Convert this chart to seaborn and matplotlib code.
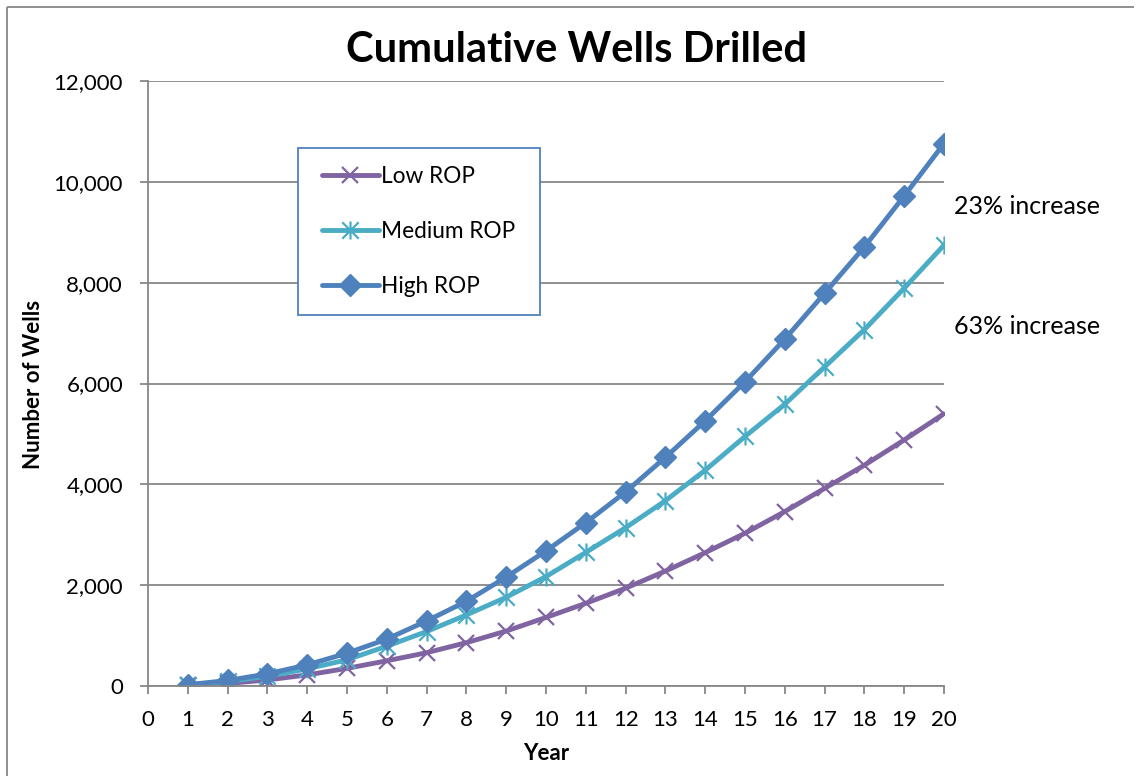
import matplotlib
matplotlib.use("Agg")
import matplotlib.pyplot as plt
import seaborn as sns
import pandas as pd
from matplotlib.ticker import FuncFormatter
from matplotlib.patches import Rectangle
from matplotlib.lines import Line2D
from matplotlib.path import Path

years = list(range(1, 21))
low_rop = [10, 50, 120, 220, 350, 500, 660, 860, 1090, 1360, 1640, 1940, 2280, 2645,
           3030, 3460, 3920, 4380, 4880, 5400]
medium_rop = [20, 90, 190, 340, 520, 790, 1080, 1410, 1760, 2170, 2650, 3140, 3675, 4280,
              4950, 5590, 6330, 7070, 7890, 8745]
high_rop = [25, 110, 240, 420, 650, 930, 1290, 1680, 2160, 2680, 3240, 3850, 4535, 5260,
            6035, 6880, 7790, 8710, 9720, 10760]
series_names = ["Low ROP", "Medium ROP", "High ROP"]
annotations = ["23% increase", "63% increase"]

df = pd.DataFrame({
    "Year": years * 3,
    "Wells": low_rop + medium_rop + high_rop,
    "Series": [series_names[0]] * 20 + [series_names[1]] * 20 + [series_names[2]] * 20,
})

sns.set_theme(style="white")
plt.rcParams["font.family"] = ["Lato", "DejaVu Sans"]
plt.rcParams["text.color"] = "black"
plt.rcParams["axes.labelcolor"] = "black"

star = Path([(-1, -1), (1, 1), (-1, 1), (1, -1), (0, -1.1), (0, 1.1)],
            [Path.MOVETO, Path.LINETO, Path.MOVETO, Path.LINETO, Path.MOVETO, Path.LINETO])

palette = {"Low ROP": "#8064A2", "Medium ROP": "#4BACC6", "High ROP": "#4F81BD"}
markers = {"Low ROP": "x", "Medium ROP": star, "High ROP": "D"}
msizes = {"Low ROP": 12, "Medium ROP": 13, "High ROP": 11}
mews = {"Low ROP": 1.6, "Medium ROP": 1.6, "High ROP": 1.0}

fig = plt.figure(figsize=(11.36, 7.78), dpi=100)
fig.patch.set_linewidth(0)
W, H = 1136, 778
ax = fig.add_axes([148 / W, 1 - 686 / H, (944 - 148) / W, (686 - 81) / H])

for name in series_names:
    c = palette[name]
    sns.lineplot(data=df[df["Series"] == name], x="Year", y="Wells", color=c,
                 marker=markers[name], linewidth=3.5, markersize=msizes[name],
                 markeredgewidth=mews[name], markerfacecolor=c, markeredgecolor=c,
                 ax=ax, legend=False)

ax.set_xlim(0, 20)
ax.set_ylim(0, 12000)
ax.set_xticks(range(0, 21))
ax.set_yticks(range(0, 12001, 2000))
ax.yaxis.set_major_formatter(FuncFormatter(lambda v, p: f"{int(v):,}"))
ax.grid(axis="y", color="#878787", linewidth=1.3)
ax.grid(axis="x", visible=False)
ax.set_axisbelow(True)
for s in ["top", "right"]:
    ax.spines[s].set_visible(False)
for s in ["left", "bottom"]:
    ax.spines[s].set_color("#878787")
    ax.spines[s].set_linewidth(1.3)
ax.tick_params(axis="both", which="major", direction="out", length=6, width=1.3,
               color="#878787", labelsize=16, labelcolor="black")
ax.tick_params(axis="y", left=True, pad=12)
ax.tick_params(axis="x", bottom=True, pad=11)

ax.set_xlabel("Year", fontsize=16, fontweight="bold", color="black")
ax.set_ylabel("Number of Wells", fontsize=16, fontweight="bold", color="black")
ax.xaxis.set_label_coords((546 - 148) / 796, (686 - 753) / 605)
ax.yaxis.set_label_coords((33 - 148) / 796, (686 - 384) / 605)
ax.xaxis.label.set_va("center")
ax.yaxis.label.set_va("center")
fig.text(576 / W, 1 - 50 / H, "Cumulative Wells Drilled", fontsize=30,
         fontweight="bold", ha="center", va="center", color="black")

fig.text(1100 / W, 1 - 207 / H, annotations[0], fontsize=18, ha="right", va="center",
         color="black")
fig.text(1100 / W, 1 - 326 / H, annotations[1], fontsize=18, ha="right", va="center",
         color="black")

handles = [Line2D([], [], color=palette[n], marker=markers[n], linewidth=3.5,
                  markersize=msizes[n], markeredgewidth=mews[n],
                  markerfacecolor=palette[n], markeredgecolor=palette[n])
           for n in series_names]
leg = ax.legend(handles, series_names, loc="upper left",
                bbox_to_anchor=((322 - 148) / 796, 1 - (166 - 81) / 605),
                borderaxespad=0, frameon=False, fontsize=16.3,
                labelspacing=1.5, handlelength=2.5, handletextpad=0.1,
                borderpad=0)
for t in leg.get_texts():
    t.set_color("black")
ax.add_patch(Rectangle(((298 - 148) / 796, 1 - (315 - 81) / 605),
                       (540 - 298) / 796, (315 - 148) / 605, transform=ax.transAxes,
                       facecolor="white", edgecolor="#4F81BD", linewidth=1.3, zorder=4))
leg.set_zorder(5)

fig.add_artist(Line2D([6.5 / W, 6.5 / W], [0.002, 1 - 6.5 / H], transform=fig.transFigure,
                      color="#878787", linewidth=1.3, solid_capstyle="butt"))
fig.add_artist(Line2D([6.5 / W, 0.998], [1 - 6.5 / H, 1 - 6.5 / H],
                      transform=fig.transFigure, color="#878787", linewidth=1.3,
                      solid_capstyle="butt"))

fig.savefig("out.png", dpi=100)
